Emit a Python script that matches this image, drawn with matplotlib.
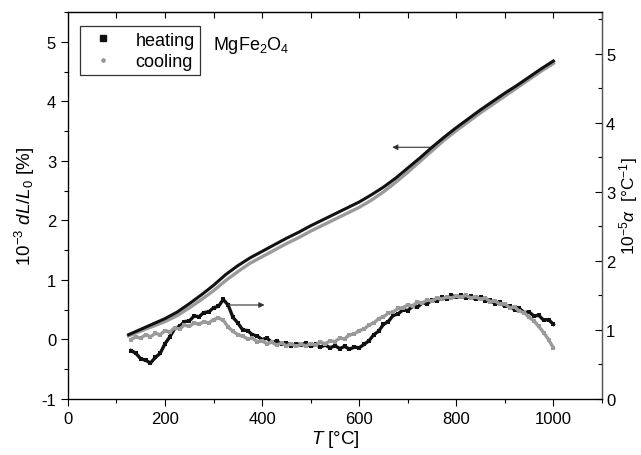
import matplotlib
matplotlib.use("Agg")
import matplotlib.pyplot as plt
from matplotlib.lines import Line2D
from matplotlib.ticker import MultipleLocator

plt.rcParams['font.family'] = ['Liberation Sans', 'DejaVu Sans']
plt.rcParams['mathtext.fontset'] = 'custom'
plt.rcParams['mathtext.rm'] = 'Liberation Sans'
plt.rcParams['mathtext.it'] = 'Liberation Sans:italic'
plt.rcParams['mathtext.default'] = 'regular'
plt.rcParams['axes.unicode_minus'] = False

# dL/L0 curves (left axis)
dl_T = [125, 150, 175, 200, 225, 250, 275, 300, 325, 350, 375, 400, 425, 450, 475,
        500, 525, 550, 575, 600, 625, 650, 675, 700, 725, 750, 775, 800, 825, 850,
        875, 900, 925, 950, 975, 1000]
dl_heat = [0.08, 0.17, 0.26, 0.35, 0.46, 0.60, 0.75, 0.91, 1.09, 1.24, 1.37, 1.48,
           1.59, 1.70, 1.80, 1.91, 2.01, 2.11, 2.21, 2.31, 2.43, 2.56, 2.71, 2.88,
           3.05, 3.23, 3.40, 3.56, 3.71, 3.86, 4.00, 4.14, 4.27, 4.41, 4.55, 4.68]
dl_cool = [0.06, 0.14, 0.22, 0.30, 0.40, 0.53, 0.67, 0.82, 0.99, 1.14, 1.28, 1.39,
           1.50, 1.61, 1.71, 1.82, 1.92, 2.02, 2.12, 2.22, 2.34, 2.48, 2.64, 2.81,
           2.99, 3.17, 3.35, 3.51, 3.66, 3.81, 3.95, 4.09, 4.23, 4.37, 4.51, 4.64]

# thermal expansion coefficient alpha (right axis)
a_T = [130, 140, 150, 160, 170, 180, 190, 200, 210, 220, 230, 240, 250, 260, 270,
       280, 290, 300, 310, 320, 330, 340, 350, 360, 370, 380, 390, 400, 410, 420,
       430, 440, 450, 460, 470, 480, 490, 500, 510, 520, 530, 540, 550, 560, 570,
       580, 590, 600, 610, 620, 630, 640, 650, 660, 670, 680, 690, 700, 710, 720,
       730, 740, 750, 760, 770, 780, 790, 800, 810, 820, 830, 840, 850, 860, 870,
       880, 890, 900, 910, 920, 930, 940, 950, 960, 970, 980, 990, 1000]
a_heat = [0.70, 0.66, 0.58, 0.56, 0.52, 0.60, 0.66, 0.80, 0.90, 1.02, 1.05, 1.12,
          1.13, 1.20, 1.19, 1.25, 1.26, 1.32, 1.34, 1.44, 1.36, 1.18, 1.10, 1.00,
          0.99, 0.93, 0.91, 0.86, 0.88, 0.82, 0.84, 0.79, 0.81, 0.77, 0.80, 0.78,
          0.81, 0.76, 0.79, 0.75, 0.78, 0.74, 0.77, 0.73, 0.76, 0.72, 0.75, 0.74,
          0.79, 0.84, 0.93, 0.98, 1.08, 1.12, 1.21, 1.23, 1.29, 1.28, 1.34, 1.33,
          1.39, 1.38, 1.43, 1.42, 1.47, 1.45, 1.50, 1.47, 1.50, 1.46, 1.49, 1.44,
          1.47, 1.42, 1.43, 1.38, 1.40, 1.34, 1.35, 1.29, 1.31, 1.25, 1.26, 1.20,
          1.21, 1.14, 1.15, 1.08]
a_cool = [0.86, 0.90, 0.88, 0.93, 0.90, 0.95, 0.93, 0.99, 0.97, 1.03, 1.01, 1.07,
          1.05, 1.10, 1.08, 1.12, 1.10, 1.15, 1.17, 1.14, 1.04, 0.98, 0.93, 0.91,
          0.87, 0.88, 0.83, 0.84, 0.80, 0.82, 0.78, 0.81, 0.77, 0.80, 0.76, 0.79,
          0.77, 0.80, 0.78, 0.82, 0.80, 0.84, 0.83, 0.88, 0.87, 0.93, 0.94, 0.99,
          1.01, 1.07, 1.10, 1.16, 1.19, 1.24, 1.26, 1.31, 1.32, 1.36, 1.35, 1.40,
          1.39, 1.43, 1.42, 1.46, 1.44, 1.48, 1.46, 1.49, 1.47, 1.50, 1.46, 1.48,
          1.44, 1.46, 1.41, 1.42, 1.37, 1.38, 1.32, 1.33, 1.27, 1.25, 1.18, 1.13,
          1.05, 0.96, 0.86, 0.74]

black = '#111111'
grey = '#9a9a9a'

fig = plt.figure(figsize=(6.41, 4.56), dpi=100)
ax = fig.add_axes([0.106, 0.123, 0.833, 0.848])
ax2 = ax.twinx()

ax.plot(dl_T, dl_cool, color=grey, lw=2.4, zorder=3)
ax.plot(dl_T, dl_heat, color=black, lw=2.2, zorder=4)

ax2.plot(a_T, a_heat, color=black, lw=2.4, marker='s', ms=3.4, mew=0, zorder=3)
ax2.plot(a_T, a_cool, color=grey, lw=2.4, marker='s', ms=3.4, mew=0, zorder=4)

ax.set_xlim(0, 1100)
ax.set_ylim(-1, 5.5)
ax2.set_ylim(0, 5.6)

ax.xaxis.set_major_locator(MultipleLocator(200))
ax.xaxis.set_minor_locator(MultipleLocator(100))
ax.yaxis.set_major_locator(MultipleLocator(1))
ax.yaxis.set_minor_locator(MultipleLocator(0.5))
ax2.yaxis.set_major_locator(MultipleLocator(1))
ax2.yaxis.set_minor_locator(MultipleLocator(0.5))

ax.tick_params(axis='both', which='major', direction='out', length=5, width=0.8,
               labelsize=12, top=False)
ax.tick_params(axis='both', which='minor', direction='out', length=3, width=0.8,
               top=False)
ax2.tick_params(axis='y', which='major', direction='in', length=5, width=0.8,
                labelsize=12, pad=3)
ax2.tick_params(axis='y', which='minor', direction='in', length=3, width=0.8)

top = ax.secondary_xaxis('top')
top.xaxis.set_major_locator(MultipleLocator(100))
top.tick_params(direction='in', length=4, width=0.8, labeltop=False)

for sp in ax.spines.values():
    sp.set_linewidth(0.9)
ax2.spines['right'].set_color('#555555')

ax.set_xlabel('$\\it{T}$ [°C]', fontsize=13.5, labelpad=2)
ax.set_ylabel('10$^{-3}$ $\\it{dL/L}$$_0$ [%]', fontsize=13.5, labelpad=3)
ax2.set_ylabel('10$^{-5}$$\\it{\\alpha}$  [°C$^{-1}$]', fontsize=12.5, labelpad=1)

ax.text(0.272, 0.917, 'MgFe$_2$O$_4$', transform=ax.transAxes, fontsize=13,
        ha='left', va='center')

handles = [Line2D([], [], ls='none', marker='s', ms=3.8, color=black),
           Line2D([], [], ls='none', marker='o', ms=2.4, color=grey)]
leg = ax.legend(handles, ['heating', 'cooling'], loc='upper left',
                bbox_to_anchor=(0.022, 0.964), fontsize=13, frameon=True,
                fancybox=False, edgecolor='black', handlelength=2.0,
                handletextpad=0.8, borderpad=0.3, labelspacing=0.25,
                borderaxespad=0)
leg.get_frame().set_linewidth(0.9)

ax.annotate('', xy=(668, 3.23), xytext=(746, 3.23),
            arrowprops=dict(arrowstyle='-|>', lw=0.8, color='#333333',
                            mutation_scale=8, shrinkA=0, shrinkB=0))
ax2.annotate('', xy=(405, 1.36), xytext=(330, 1.36),
             arrowprops=dict(arrowstyle='-|>', lw=0.8, color='#333333',
                             mutation_scale=8, shrinkA=0, shrinkB=0))

fig.savefig('out.png', dpi=100)
